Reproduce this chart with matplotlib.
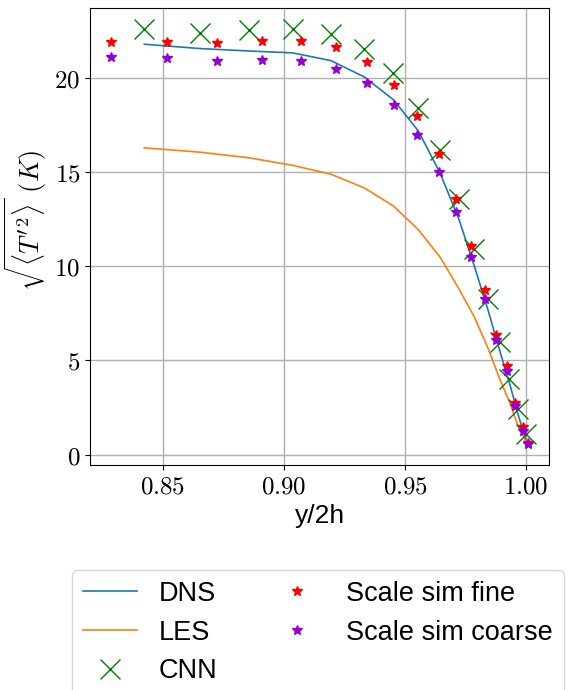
import matplotlib
matplotlib.use("Agg")
import matplotlib.pyplot as plt
from matplotlib.lines import Line2D

plt.rcParams['mathtext.fontset'] = 'cm'
plt.rcParams['font.family'] = ['Liberation Sans', 'DejaVu Sans']

# CNN grid / DNS / LES
x_cnn = [0.8423, 0.8653, 0.8857, 0.9036, 0.9194, 0.9332, 0.9452, 0.9555,
         0.9645, 0.9722, 0.9786, 0.9844, 0.9891, 0.9931, 0.9967, 0.9999]
y_cnn = [22.60, 22.36, 22.51, 22.60, 22.31, 21.51, 20.25, 18.42,
         16.16, 13.58, 10.92, 8.25, 5.97, 4.02, 2.42, 1.08]
y_dns = [21.78, 21.55, 21.42, 21.32, 20.91, 20.04, 18.83, 17.17,
         14.92, 12.50, 10.00, 7.60, 5.50, 3.80, 2.10, 0.80]
y_les = [16.28, 16.05, 15.75, 15.35, 14.88, 14.15, 13.19, 11.93,
         10.47, 8.80, 7.30, 5.60, 4.00, 2.80, 1.50, 0.70]

# Scale similarity models
x_ss = [0.8285, 0.8515, 0.8722, 0.8909, 0.9070, 0.9216, 0.9344, 0.9455, 0.9551,
        0.9639, 0.9712, 0.9773, 0.9829, 0.9877, 0.9919, 0.9953, 0.9985, 1.0008]
y_fine = [21.90, 21.90, 21.83, 21.96, 21.96, 21.62, 20.85, 19.63, 17.97,
          15.93, 13.55, 11.07, 8.71, 6.35, 4.69, 2.75, 1.49, 0.64]
y_coarse = [21.10, 21.03, 20.87, 20.92, 20.89, 20.48, 19.72, 18.54, 16.98,
            15.02, 12.85, 10.51, 8.28, 6.08, 4.41, 2.60, 1.26, 0.55]

xticks = [0.85, 0.90, 0.95, 1.00]
yticks = [0, 5, 10, 15, 20]

fig = plt.figure(figsize=(5.72, 6.90), dpi=100)
ax = fig.add_axes([90/572, 1-465/690, (549-90)/572, (465-8)/690])

ax.plot(x_cnn, y_dns, color='tab:blue', lw=1.2, zorder=2)
ax.plot(x_cnn, y_les, color='tab:orange', lw=1.2, zorder=2)
ax.plot(x_cnn, y_cnn, ls='none', marker='x', color='green', ms=15, mew=1.0, zorder=3)
ax.plot(x_ss, y_fine, ls='none', marker='*', color='red', ms=7.5, zorder=4)
ax.plot(x_ss, y_coarse, ls='none', marker='*', color='darkviolet', ms=7.5, zorder=5)

ax.set_xticks(xticks)
ax.set_xticklabels([f'${t:.2f}$' for t in xticks])
ax.set_yticks(yticks)
ax.set_yticklabels([f'${t}$' for t in yticks])
ax.tick_params(labelsize=18)
ax.grid(True, color='#b0b0b0', lw=1.0)
ax.set_axisbelow(True)

ax.set_xlabel('y/2h', fontsize=19)
ax.set_ylabel(r"$\sqrt{\langle T'^2\rangle}\ (K)$", fontsize=19)
ax.yaxis.set_label_coords(-0.09, 0.535)

handles = [
    Line2D([], [], color='tab:blue', lw=1.2),
    Line2D([], [], color='tab:orange', lw=1.2),
    Line2D([], [], ls='none', marker='x', color='green', ms=15, mew=1.0),
    Line2D([], [], ls='none', marker='*', color='red', ms=7),
    Line2D([], [], ls='none', marker='*', color='darkviolet', ms=7),
]
labels = ['DNS', 'LES', 'CNN', 'Scale sim fine', 'Scale sim coarse']
fig.legend(handles, labels, loc='upper left', bbox_to_anchor=(72/572, 1-570/690),
           ncol=2, fontsize=19.5, handlelength=2.0, handletextpad=0.8,
           columnspacing=1.95, labelspacing=0.47, borderaxespad=0.0)

fig.savefig('out.png', dpi=100)
